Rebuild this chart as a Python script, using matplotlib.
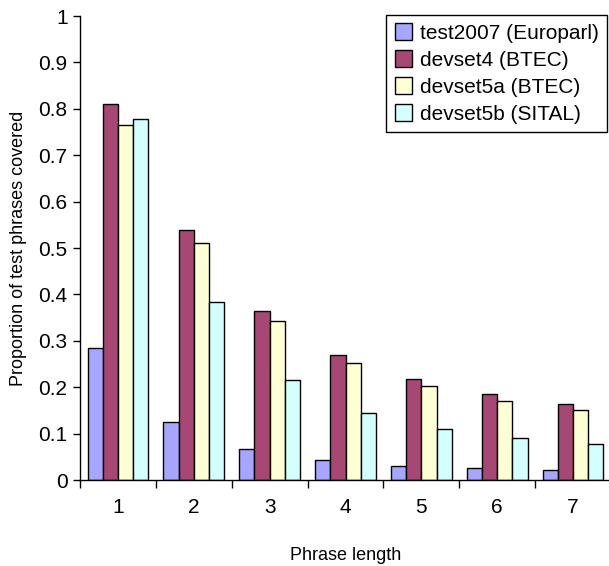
import matplotlib
matplotlib.use("Agg")
import matplotlib.pyplot as plt
import numpy as np

plt.rcParams['font.family'] = ['Liberation Sans', 'DejaVu Sans']

categories = ['1', '2', '3', '4', '5', '6', '7']
series_names = ['test2007 (Europarl)', 'devset4 (BTEC)', 'devset5a (BTEC)', 'devset5b (SITAL)']
test2007 = [0.285, 0.124, 0.066, 0.043, 0.031, 0.025, 0.021]
devset4 = [0.810, 0.538, 0.365, 0.270, 0.217, 0.185, 0.164]
devset5a = [0.765, 0.510, 0.342, 0.253, 0.202, 0.171, 0.151]
devset5b = [0.777, 0.383, 0.216, 0.145, 0.110, 0.090, 0.078]
colors = ['#A6A6FF', '#A64873', '#FFFFD4', '#D4FFFF']

FS = 15
FT = 13

fig = plt.figure(figsize=(6.09, 5.66), dpi=100)
ax = fig.add_axes([80/609, 86/566, 531/609, 464/566])

x = np.arange(len(categories))
w = 0.2
for i, (vals, name, c) in enumerate(zip([test2007, devset4, devset5a, devset5b], series_names, colors)):
    ax.bar(x - 0.3 + i*w, vals, w, color=c, edgecolor='black', linewidth=1.0, label=name)

ax.set_xlim(-0.5, len(categories) - 0.5)
ax.set_ylim(0, 1)
ax.set_yticks(np.arange(0, 1.01, 0.1))
ax.set_yticklabels(['0', '0.1', '0.2', '0.3', '0.4', '0.5', '0.6', '0.7', '0.8', '0.9', '1'])
ax.set_xticks(x)
ax.set_xticklabels(categories)
ax.set_xticks(np.arange(-0.5, len(categories), 1.0), minor=True)
ax.tick_params(axis='x', which='major', length=0, pad=13, labelsize=FS)
ax.tick_params(axis='x', which='minor', length=6, width=1, direction='out')
ax.tick_params(axis='y', length=5, width=1, direction='out', labelsize=FS, pad=4)
for s in ['top', 'right']:
    ax.spines[s].set_visible(False)
for s in ['left', 'bottom']:
    ax.spines[s].set_linewidth(1)

ax.set_xlabel('Phrase length', fontsize=FT, va='center')
ax.xaxis.set_label_coords(0.5, (480 - 555) / 464)
ax.set_ylabel('Proportion of test phrases covered', fontsize=FT, va='center')
ax.yaxis.set_label_coords(-(80 - 19) / 531, 0.5)

leg = ax.legend(loc='upper right', bbox_to_anchor=(607/609, 1 - 15/566), bbox_transform=fig.transFigure,
                borderaxespad=0, fancybox=False, framealpha=1, edgecolor='black', fontsize=FS,
                handlelength=0.85, handleheight=0.85, handletextpad=0.35, labelspacing=0.36,
                borderpad=0.4)
leg.get_frame().set_linewidth(1)

fig.savefig('out.png', dpi=100)
